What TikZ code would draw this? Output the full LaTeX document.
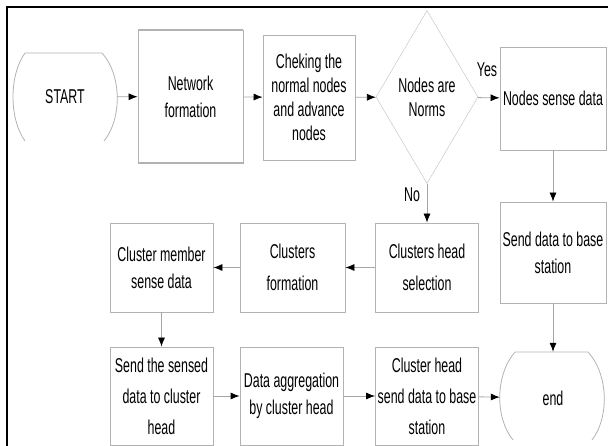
\documentclass[tikz,border=0pt]{standalone}
\usepackage{fontspec}
\newfontfamily\flowfont[FakeStretch=0.62]{Liberation Sans}
\usetikzlibrary{shapes.geometric,arrows.meta}
\begin{document}
\begin{tikzpicture}[x=1pt,y=-1pt,
    txt/.style={align=center,inner sep=2pt,font=\flowfont\fontsize{20}{27}\selectfont},
    box/.style={txt,draw=gray!60,line width=0.8pt},
    termline/.style={draw=gray!60,line width=0.8pt},
    flow/.style={draw=gray!70,line width=0.8pt,-{Latex[length=9pt,width=7pt,black]}}]
  \useasboundingbox (0,0) rectangle (608,446);
  \draw[line width=2.5pt] (7,446) -- (7,7) -- (608,7);
  \node[txt,minimum width=104pt,minimum height=88pt] (start) at (65,97) {START};
  \node[box,minimum width=105pt,minimum height=133pt] (net) at (190.5,96.5) {Network\\formation};
  \node[box,minimum width=92pt,minimum height=125pt,font=\flowfont\fontsize{20}{24}\selectfont] (check) at (309,97.5)
    {Cheking the\\normal nodes\\and advance\\nodes};
  \node[txt,draw=gray!50,shape=diamond,inner sep=0pt,minimum width=102pt,minimum height=173pt,
    font=\flowfont\fontsize{20}{24}\selectfont] (dia) at (427,97) {Nodes are\\Norms};
  \node[box,minimum width=106pt,minimum height=103pt] (sense) at (553,98.5) {Nodes sense data};
  \node[box,minimum width=106pt,minimum height=101pt] (send) at (553,252.5) {Send data to base\\station};
  \node[txt,minimum width=106pt,minimum height=92pt] (endn) at (553,398) {end};
  \node[box,minimum width=103pt,minimum height=89pt,font=\flowfont\fontsize{20}{32}\selectfont] (chs) at (427,267.5) {Clusters head\\selection};
  \node[box,minimum width=105pt,minimum height=89pt,font=\flowfont\fontsize{20}{32}\selectfont] (cf) at (292.5,267.5) {Clusters\\formation};
  \node[box,minimum width=103pt,minimum height=89pt] (cm) at (161.5,267.5) {Cluster member\\sense data};
  \node[box,minimum width=103pt,minimum height=98pt,font=\flowfont\fontsize{20}{31}\selectfont] (sd) at (161.5,396) {Send the sensed\\data to cluster\\head};
  \node[box,minimum width=103pt,minimum height=98pt] (da) at (291.5,396) {Data aggregation\\by cluster head};
  \node[box,minimum width=103pt,minimum height=98pt,font=\flowfont\fontsize{20}{31}\selectfont] (chb) at (427,396) {Cluster head\\send data to base\\station};
  \node[txt] (yes) at (487,70) {Yes};
  \node[txt] (no) at (412,195) {No};
  % terminal outlines
  \draw[termline] (25,53) -- (102,53)
    (25,53) .. controls (9,75) and (9,119) .. (25,141)
    (102,53) .. controls (122,75) and (122,119) .. (104,141);
  \draw[termline] (515,352) -- (588,352)
    (515,352) .. controls (495,375) and (495,418) .. (513,440)
    (588,352) .. controls (609,375) and (609,418) .. (592,440);
  \draw[gray!60,line width=2pt] (net.north west) -- (net.north east)
    (net.south west) -- (net.south east);
  \begin{scope}[flow]
    \draw (start) to (net);
    \draw (net) to (check);
    \draw (check) to (dia);
    \draw (dia) to (sense);
    \draw (sense) to (send);
    \draw (send) to (endn);
    \draw (dia) to (chs);
    \draw (chs) to (cf);
    \draw (cf) to (cm);
    \draw (cm) to (sd);
    \draw (sd) to (da);
    \draw (da) to (chb);
    \draw (chb) to (endn);
  \end{scope}
\end{tikzpicture}
\end{document}
